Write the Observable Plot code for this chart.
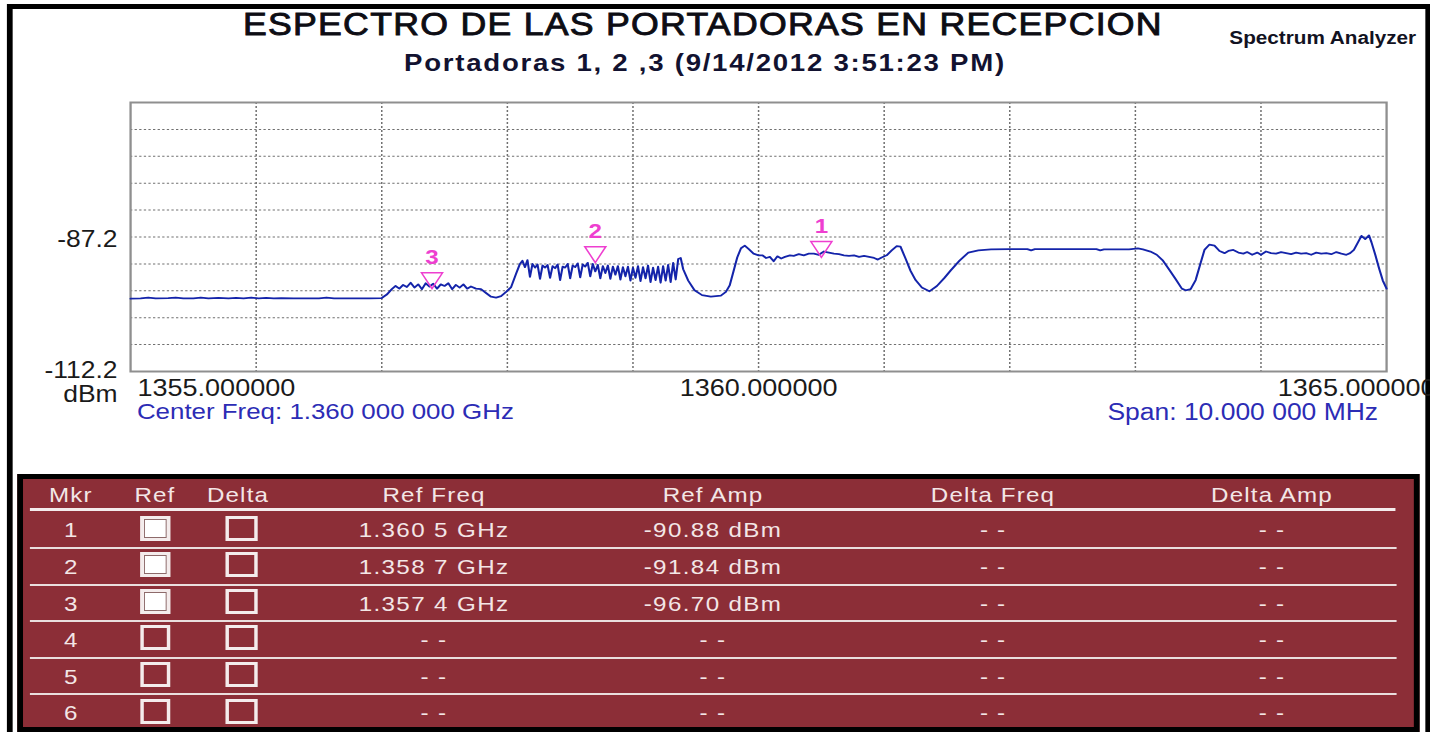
<!DOCTYPE html>
<html><head><meta charset="utf-8">
<script src="https://cdn.jsdelivr.net/npm/d3@7"></script>
<script src="https://cdn.jsdelivr.net/npm/@observablehq/plot@0.6"></script>
<style>
html,body{margin:0;padding:0;background:#fff;overflow:hidden;width:1430px;height:732px;}
#page{position:absolute;left:0;top:0;width:1243px;height:732px;transform:scaleX(1.1504);transform-origin:0 0;font-family:"Liberation Sans",Arial,sans-serif;}
.abs{position:absolute;white-space:nowrap;line-height:0.8;}
.box{position:absolute;box-sizing:border-box;}
</style></head><body><div id="page"></div>
<script>
// ---------------- data ----------------
const chartTitle = "ESPECTRO DE LAS PORTADORAS EN RECEPCION";
const chartSubtitle = "Portadoras 1, 2 ,3 (9/14/2012 3:51:23 PM)";
const instrument = "Spectrum Analyzer";
const centerText = "Center Freq: 1.360 000 000 GHz";
const spanText = "Span: 10.000 000 MHz";
const yUnit = "dBm";

const xDomain = [1355, 1365];          // MHz
const yDomain = [-112.2, -62.2];       // dBm
const xGrid = [1356, 1357, 1358, 1359, 1360, 1361, 1362, 1363, 1364];
const yGrid = [-107.2, -102.2, -97.2, -92.2, -87.2, -82.2, -77.2, -72.2, -67.2];
const xTickFirst = [1355], xTickMid = [1360], xTickLast = [1365];
const yTickRef = [-87.2], yTickBottom = [-112.2];

const traceFreq = [
 1355.00,1355.08,1355.14,1355.20,1355.30,1355.36,1355.42,1355.50,1355.56,1355.62,1355.70,1355.78,1355.84,1355.90,1355.96,
 1356.02,1356.08,1356.14,1356.20,1356.30,1356.40,1356.50,1356.56,1356.62,1356.75,1356.90,1357.00,
 1357.04,1357.08,1357.11,1357.14,1357.17,1357.20,1357.23,1357.26,1357.29,1357.32,1357.35,1357.38,1357.41,1357.44,1357.47,
 1357.50,1357.53,1357.56,1357.59,1357.62,1357.65,1357.68,1357.71,1357.75,1357.79,1357.83,1357.87,1357.91,1357.95,1357.99,
 1358.03,1358.07,1358.10,
 1358.12,1358.14,1358.16,1358.18,1358.20,1358.22,1358.24,1358.26,1358.28,1358.30,1358.32,1358.34,1358.36,1358.38,1358.40,
 1358.42,1358.44,1358.46,1358.48,1358.50,1358.52,1358.54,1358.56,1358.58,1358.60,1358.62,1358.64,1358.66,1358.68,1358.70,
 1358.72,1358.74,1358.76,1358.78,1358.80,1358.82,1358.84,1358.86,1358.88,1358.90,1358.92,1358.94,1358.96,1358.98,1359.00,
 1359.02,1359.04,1359.06,1359.08,1359.10,1359.12,1359.14,1359.16,1359.18,1359.20,1359.22,1359.24,1359.26,1359.28,1359.30,
 1359.32,1359.34,1359.36,1359.38,
 1359.40,1359.44,1359.49,1359.55,1359.62,1359.70,1359.74,1359.77,1359.80,1359.83,1359.86,1359.89,1359.92,1359.96,1360.00,
 1360.03,1360.06,1360.09,1360.12,1360.15,1360.18,1360.21,1360.25,1360.28,1360.32,1360.36,1360.40,1360.44,1360.48,1360.52,
 1360.56,1360.60,1360.64,1360.68,1360.72,1360.76,1360.80,1360.84,1360.88,1360.92,1360.95,1360.98,1361.02,1361.06,1361.10,
 1361.13,1361.17,1361.21,1361.25,1361.30,1361.36,1361.42,1361.48,1361.53,1361.60,1361.67,1361.75,1361.85,
 1362.00,1362.14,1362.17,1362.20,1362.50,1362.69,1362.72,1362.75,1362.95,1363.02,1363.06,1363.12,1363.17,1363.22,1363.27,
 1363.32,1363.37,1363.40,1363.44,1363.48,1363.52,1363.55,1363.59,1363.63,1363.67,1363.71,1363.74,1363.78,1363.82,1363.86,
 1363.89,1363.93,1363.97,1364.00,1364.04,1364.08,1364.12,1364.16,1364.20,1364.24,1364.28,1364.32,1364.36,1364.40,1364.44,
 1364.48,1364.52,1364.56,1364.60,1364.64,1364.68,1364.71,1364.74,1364.77,1364.80,1364.83,1364.86,1364.88,1364.91,1364.94,
 1364.97,1365.00
];
const traceAmp = [
 -98.65,-98.6,-98.45,-98.6,-98.55,-98.45,-98.6,-98.6,-98.45,-98.6,-98.5,-98.6,-98.5,-98.6,-98.45,
 -98.6,-98.5,-98.6,-98.55,-98.6,-98.6,-98.6,-98.45,-98.6,-98.6,-98.6,-98.55,
 -97.9,-96.9,-96.3,-96.8,-96.1,-96.5,-95.7,-96.6,-96.0,-96.9,-95.8,-96.4,-95.9,-96.8,-96.0,
 -96.3,-95.8,-96.9,-96.1,-96.6,-96.0,-96.8,-96.4,-96.8,-96.9,-97.6,-98.3,-98.45,-98.2,-97.4,
 -96.5,-94.0,-92.2,
 -91.6,-92.8,-91.5,-94.6,-92.2,-92.9,-92.3,-95.0,-92.5,-92.9,-92.4,-94.8,-92.6,-93.0,-92.3,
 -95.2,-92.7,-92.9,-92.2,-94.9,-92.5,-92.8,-92.1,-94.7,-92.3,-92.7,-92.0,-94.5,-92.2,-93.6,
 -92.4,-94.9,-92.6,-93.9,-92.5,-95.0,-92.7,-94.2,-92.6,-95.1,-92.8,-94.5,-92.7,-95.3,-92.9,
 -94.8,-92.6,-95.4,-92.8,-94.9,-92.5,-95.6,-92.9,-95.2,-92.7,-95.7,-92.6,-95.3,-92.4,-95.6,
 -92.0,-95.1,-91.3,-91.1,
 -93.2,-95.3,-97.1,-98.0,-98.3,-98.1,-97.4,-96.2,-93.6,-91.0,-89.3,-88.8,-89.4,-90.3,-90.6,
 -90.6,-91.1,-90.9,-91.7,-90.8,-91.2,-90.9,-90.6,-90.7,-90.4,-90.6,-90.3,-90.3,-90.5,-89.9,
 -90.1,-90.3,-90.4,-90.6,-90.7,-90.6,-90.9,-90.7,-90.9,-91.1,-91.4,-91.0,-90.6,-89.7,-88.9,
 -89.0,-91.2,-93.5,-95.2,-96.6,-97.3,-96.3,-94.8,-93.4,-91.6,-90.1,-89.7,-89.5,
 -89.45,-89.45,-89.7,-89.45,-89.45,-89.45,-89.7,-89.5,-89.5,-89.3,-89.5,-89.9,-90.5,-91.6,-93.3,
 -95.0,-96.8,-97.1,-96.9,-95.2,-92.0,-89.6,-88.6,-88.8,-89.8,-90.2,-89.8,-89.6,-90.1,-90.3,
 -90.0,-90.5,-90.1,-90.5,-89.9,-90.2,-90.3,-90.0,-90.2,-90.4,-90.1,-90.3,-90.2,-90.5,-90.1,
 -90.3,-90.2,-90.4,-90.0,-90.3,-90.5,-90.2,-89.6,-88.3,-87.0,-87.6,-86.9,-88.2,-90.5,-93.0,
 -95.3,-96.8
];

const markerIds  = ["1", "2", "3"];
const markerFreq = [1360.5, 1358.7, 1357.4];   // MHz
const markerAmp  = [-90.88, -91.84, -96.70];   // dBm

const tableHeaders = ["Mkr", "Ref", "Delta", "Ref Freq", "Ref Amp", "Delta Freq", "Delta Amp"];
const tableRows = ["1", "2", "3", "4", "5", "6"];
const refChecked = [true, true, true, false, false, false];
const emptyCell = "- -";

// ---------------- layout ----------------
const W = 1243;            // page drawn at 1243 px and stretched ×1.1504 to 1430 px, like the screenshot
const page = document.getElementById("page");
const FONT = '"Liberation Sans", Arial, sans-serif';
const LH = 0.8;

function txt(s, o) {
  const d = document.createElement("div");
  d.className = "abs";
  d.textContent = s;
  d.style.fontSize = o.size + "px";
  d.style.fontWeight = o.weight || "normal";
  d.style.color = o.color || "#111";
  if (o.ls) d.style.letterSpacing = o.ls + "px";
  if (o.stroke) d.style.webkitTextStroke = o.stroke + "px " + (o.color || "#111");
  d.style.top = (o.base - (LH / 2 + 0.3465) * o.size) + "px";
  d.style.left = o.x + "px";
  const tx = o.anchor === "middle" ? "-50%" : o.anchor === "end" ? "-100%" : "0";
  d.style.transform = `translateX(${tx})`;
  page.appendChild(d);
  return d;
}
function box(o) {
  const d = document.createElement("div");
  d.className = "box";
  Object.assign(d.style, o);
  page.appendChild(d);
  return d;
}

// outer black frame
box({left: "6px", top: "4px", width: "1238px", height: "780px", border: "5px solid #000"});

// ---------------- chart ----------------
const trace = traceFreq.map((f, i) => ({f, a: traceAmp[i]}));
const markers = markerIds.map((id, i) => ({id, f: markerFreq[i], a: markerAmp[i]}));
const fmtX = d => d.toFixed(6);
const fmtY = d => d.toFixed(1);
const magenta = "#ee3fd0";

const chart = Plot.plot({
  width: W, height: 440,
  marginLeft: 113, marginRight: W - 1204.8, marginTop: 102, marginBottom: 69,
  x: {domain: xDomain, label: null},
  y: {domain: yDomain, label: null},
  style: {background: "transparent", overflow: "visible", fontFamily: FONT, color: "#1a1a1a"},
  marks: [
    Plot.ruleX(xGrid, {stroke: "#707070", strokeDasharray: "2,2", strokeWidth: 1.3}),
    Plot.ruleY(yGrid, {stroke: "#707070", strokeDasharray: "2,2", strokeWidth: 1}),
    Plot.frame({stroke: "#8f8f8f", strokeWidth: 2}),
    Plot.line(trace, {x: "f", y: "a", stroke: "#1424aa", strokeWidth: 1.8, strokeLinejoin: "round"}),
    Plot.dot(markers, {x: "f", y: "a", symbol: "triangle", rotate: 180, r: 6.8, dy: -10,
      stroke: magenta, strokeWidth: 1.4, fill: "none"}),
    Plot.text(markers, {x: "f", y: "a", text: "id", dy: -31, fill: magenta, fontSize: 21, fontWeight: "bold"}),
    Plot.axisX(xTickFirst, {tickSize: 0, tickPadding: 8, tickFormat: fmtX, textAnchor: "start", dx: 6, fontSize: 23.5, label: null}),
    Plot.axisX(xTickMid, {tickSize: 0, tickPadding: 8, tickFormat: fmtX, fontSize: 23.5, label: null}),
    Plot.axisX(xTickLast, {tickSize: 0, tickPadding: 8, tickFormat: fmtX, textAnchor: "end", dx: 42.6, fontSize: 23.5, label: null}),
    Plot.axisY(yTickRef, {tickSize: 0, tickPadding: 11.3, tickFormat: fmtY, dy: 3, fontSize: 23, label: null}),
    Plot.axisY(yTickBottom, {tickSize: 0, tickPadding: 11.3, tickFormat: fmtY, dy: -1, fontSize: 23, label: null}),
    Plot.text([yUnit], {text: d => d, frameAnchor: "bottom-left", dx: -11.3, dy: 23, textAnchor: "end",
      lineAnchor: "middle", fontSize: 23})
  ]
});
chart.style.position = "absolute";
chart.style.left = "0px";
chart.style.top = "0px";
page.appendChild(chart);

// titles
txt(chartTitle, {x: 611, base: 36, size: 31, anchor: "middle", ls: 1.1, stroke: 0.9, color: "#0d0d14"});
txt(chartSubtitle, {x: 612.8, base: 70.5, size: 24, weight: "bold", anchor: "middle", ls: 1.5, color: "#121230"});
txt(instrument, {x: 1231, base: 44, size: 18, weight: "bold", anchor: "end", color: "#121222"});
txt(centerText, {x: 119, base: 419.5, size: 22.5, color: "#2c2cb5"});
txt(spanText, {x: 1197.9, base: 420, size: 23, anchor: "end", color: "#2c2cb5"});

// ---------------- marker table ----------------
const tcol = "#f3e6e6";
box({left: "14.8px", top: "474px", width: "1219.6px", height: "258px", border: "5px solid #000", background: "#8c2e37"});
const colX = [61.5, 134.7, 206.9, 377.3, 619.8, 863.2, 1105.7];
tableHeaders.forEach((h, j) => txt(h, {x: colX[j], base: 503, size: 21, anchor: "middle", ls: 1, color: tcol}));
box({left: "26.1px", top: "508px", width: "1186.5px", height: "3px", background: "#f4ecec"});

const refFreqText = tableRows.map((r, i) => {
  if (i >= markerFreq.length) return emptyCell;
  const s = (markerFreq[i] / 1000).toFixed(4);
  return s.slice(0, 5) + " " + s.slice(5) + " GHz";
});
const refAmpText = tableRows.map((r, i) => i < markerAmp.length ? markerAmp[i].toFixed(2) + " dBm" : emptyCell);

tableRows.forEach((r, i) => {
  const c = 530.5 + 36.6 * i;
  const base = c + 7.5;
  txt(r, {x: colX[0], base, size: 21, anchor: "middle", color: tcol});
  txt(refFreqText[i], {x: colX[3], base, size: 21, anchor: "middle", ls: 1.2, color: tcol});
  txt(refAmpText[i], {x: colX[4], base, size: 21, anchor: "middle", ls: 1.2, color: tcol});
  txt(emptyCell, {x: colX[5], base, size: 21, anchor: "middle", ls: 1, color: tcol});
  txt(emptyCell, {x: colX[6], base, size: 21, anchor: "middle", ls: 1, color: tcol});
  // checkboxes
  const top = (c - 15) + "px";
  box({left: (135 - 13) + "px", top, width: "26px", height: "25px", border: "3px solid #f4ecec",
       background: refChecked[i] ? "#ffffff" : "transparent",
       boxShadow: refChecked[i] ? "inset 0 0 0 1px #8d6a6a" : "none"});
  box({left: (209 - 13.5) + "px", top, width: "28px", height: "25px", border: "3px solid #f4ecec"});
  if (i < tableRows.length - 1)
    box({left: "26.1px", top: (c + 16.5) + "px", width: "1188px", height: "2px", background: "#eadede"});
});
</script></body></html>
